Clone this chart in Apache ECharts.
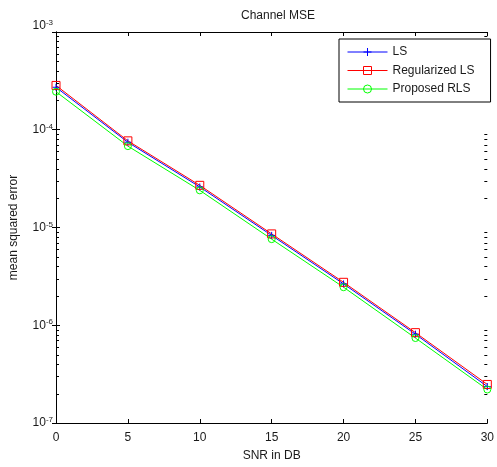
<!DOCTYPE html>
<html>
<head>
<meta charset="utf-8">
<script src="https://cdn.jsdelivr.net/npm/echarts@6/dist/echarts.min.js"></script>
<style>
  html, body { margin: 0; padding: 0; background: #fff; }
  #chart { width: 497px; height: 467px; }
</style>
</head>
<body>
<div id="chart"></div>
<script>
// SNR sweep (dB) and channel estimation MSE for each estimator
const snrDb = [0, 5, 10, 15, 20, 25, 30];
const mseLs = [2.72e-4, 7.45e-5, 2.6e-5, 8.3e-6, 2.65e-6, 8.1e-7, 2.36e-7];
const mseRegLs = [2.84e-4, 7.7e-5, 2.7e-5, 8.6e-6, 2.75e-6, 8.4e-7, 2.48e-7];
const mseRls = [2.45e-4, 6.8e-5, 2.4e-5, 7.6e-6, 2.45e-6, 7.4e-7, 2.2e-7];
const seriesNames = ['LS', 'Regularized LS', 'Proposed RLS'];

const xMin = 0, xMax = 30, xStep = 5;
const yMin = 1e-7, yMax = 1e-3;

// minor log ticks at 2..9 x 10^n inside each decade
const minorTicks = [];
for (let e = -7; e < -3; e++) {
  for (let k = 2; k <= 9; k++) minorTicks.push([xMin, k * Math.pow(10, e)]);
}

const font = 'Arial, "Liberation Sans", Helvetica, sans-serif';
const ink = '#1a1a1a';

const pairs = arr => snrDb.map((x, i) => [x, arr[i]]);

const chart = echarts.init(document.getElementById('chart'), null, { renderer: 'canvas' });

const baseAxisLine = { show: true, lineStyle: { color: '#000', width: 1 } };

// power-of-ten label; the topmost one sits a little above its tick
const powLabel = v => {
  const e = Math.round(Math.log10(v));
  const top = Math.abs(v - yMax) < yMax * 1e-6;
  return '{b|10}{e|' + e + '}' + (top ? '\n{sp| }' : '');
};

chart.setOption({
  animation: false,
  backgroundColor: '#fff',
  title: {
    text: 'Channel MSE',
    left: 273, textAlign: 'center', top: 5,
    textStyle: { fontFamily: font, fontSize: 12, fontWeight: 'normal', color: ink }
  },
  grid: { left: 55, right: 5, top: 32, bottom: 40, containLabel: false },
  legend: {
    data: seriesNames,
    orient: 'vertical',
    left: 339, top: 39,
    itemWidth: 40, itemHeight: 10, itemGap: 6.5,
    padding: [7, 16, 7, 8],
    borderColor: '#000', borderWidth: 1, borderRadius: 0,
    backgroundColor: '#fff',
    lineStyle: { width: 1 },
    itemStyle: { borderWidth: 1 },
    textStyle: { fontFamily: font, fontSize: 12, color: ink }
  },
  xAxis: [{
    type: 'value', min: xMin, max: xMax, interval: xStep,
    name: 'SNR in DB', nameLocation: 'middle', nameGap: 27,
    nameTextStyle: { fontFamily: font, fontSize: 12, color: ink },
    axisLine: baseAxisLine,
    axisTick: { show: true, inside: true, length: 4, lineStyle: { color: '#000' } },
    axisLabel: { fontFamily: font, fontSize: 12, color: ink, margin: 9, showMaxLabel: true },
    splitLine: { show: false }
  }, {
    type: 'value', position: 'top', min: xMin, max: xMax, interval: xStep,
    axisLine: baseAxisLine,
    axisTick: { show: true, inside: true, length: 4, lineStyle: { color: '#000' } },
    axisLabel: { show: false },
    splitLine: { show: false }
  }],
  yAxis: [{
    type: 'log', logBase: 10, min: yMin, max: yMax,
    name: 'mean squared error', nameLocation: 'middle', nameGap: 36,
    nameTextStyle: { fontFamily: font, fontSize: 12, color: ink },
    axisLine: baseAxisLine,
    axisTick: { show: true, inside: true, length: 4, lineStyle: { color: '#000' } },
    axisLabel: {
      margin: 3,
      formatter: powLabel,
      rich: {
        b: { fontFamily: font, fontSize: 12, color: ink, lineHeight: 14 },
        e: { fontFamily: font, fontSize: 8, color: ink, verticalAlign: 'top', lineHeight: 14, padding: [0, 0, 8, 0] },
        sp: { fontFamily: font, fontSize: 8, lineHeight: 12 }
      }
    },
    splitLine: { show: false }
  }, {
    type: 'log', logBase: 10, min: yMin, max: yMax, position: 'right',
    axisLine: baseAxisLine,
    axisTick: { show: true, inside: true, length: 4, lineStyle: { color: '#000' } },
    axisLabel: { show: false },
    splitLine: { show: false }
  }],
  series: [{
    name: 'LS', type: 'line', data: pairs(mseLs),
    symbol: 'path://M0,5L10,5M5,0L5,10', symbolSize: 7,
    lineStyle: { color: '#0000ff', width: 1 },
    itemStyle: { color: 'rgba(0,0,0,0)', borderColor: '#0000ff', borderWidth: 1 }
  }, {
    name: 'Regularized LS', type: 'line', data: pairs(mseRegLs),
    symbol: 'rect', symbolSize: 8,
    lineStyle: { color: '#ff0000', width: 1 },
    itemStyle: { color: 'rgba(0,0,0,0)', borderColor: '#ff0000', borderWidth: 1 }
  }, {
    name: 'Proposed RLS', type: 'line', data: pairs(mseRls),
    symbol: 'circle', symbolSize: 7,
    lineStyle: { color: '#00ff00', width: 1 },
    itemStyle: { color: 'rgba(0,0,0,0)', borderColor: '#00ff00', borderWidth: 1 }
  }, {
    name: 'minorTicks', type: 'custom', silent: true, clip: false,
    data: minorTicks,
    renderItem: (params, api) => {
      const v = api.value(1);
      const l = api.coord([xMin, v]);
      const r = api.coord([xMax, v]);
      const y = Math.round(l[1]) + 0.5;
      return {
        type: 'group',
        children: [
          { type: 'line', shape: { x1: l[0], y1: y, x2: l[0] + 3, y2: y }, style: { stroke: '#000', lineWidth: 1 } },
          { type: 'line', shape: { x1: r[0], y1: y, x2: r[0] - 3, y2: y }, style: { stroke: '#000', lineWidth: 1 } }
        ]
      };
    }
  }]
});
</script>
</body>
</html>
